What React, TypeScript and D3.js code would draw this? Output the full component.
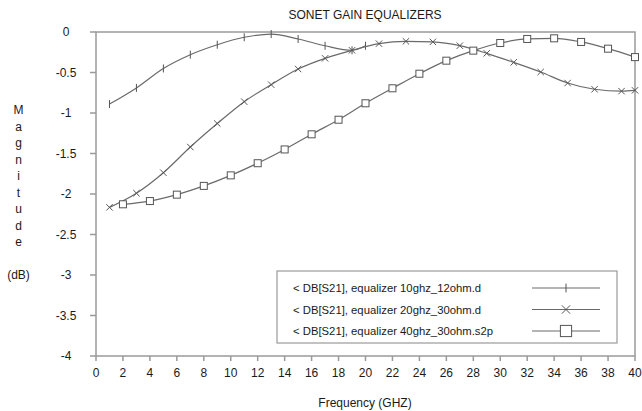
import * as d3 from "d3";

// frequency points (GHz) and magnitudes (dB)
const freq10 = [1, 3, 5, 7, 9, 11, 13, 15, 17, 19, 20];
const mag10 = [-0.89, -0.69, -0.45, -0.28, -0.157, -0.065, -0.025, -0.086, -0.17, -0.226, -0.17];

const freq20 = [1, 3, 5, 7, 9, 11, 13, 15, 17, 19, 21, 23, 25, 27, 29, 31, 33, 35, 37, 39, 40];
const mag20 = [-2.165, -1.99, -1.737, -1.42, -1.13, -0.86, -0.65, -0.457, -0.325, -0.226, -0.144, -0.115, -0.122, -0.169, -0.263, -0.375, -0.494, -0.63, -0.707, -0.73, -0.72];

const freq40 = [2, 4, 6, 8, 10, 12, 14, 16, 18, 20, 22, 24, 26, 28, 30, 32, 34, 36, 38, 40];
const mag40 = [-2.127, -2.087, -2.008, -1.9, -1.77, -1.62, -1.45, -1.263, -1.083, -0.88, -0.695, -0.515, -0.354, -0.23, -0.136, -0.086, -0.078, -0.123, -0.206, -0.31];

const seriesNames = [
  "< DB[S21], equalizer 10ghz_12ohm.d",
  "< DB[S21], equalizer 20ghz_30ohm.d",
  "< DB[S21], equalizer 40ghz_30ohm.s2p",
];

const xTicks = d3.range(0, 41, 2);
const yTicks = [0, -0.5, -1, -1.5, -2, -2.5, -3, -3.5, -4];
const yLabelLetters = ["M", "a", "g", "n", "i", "t", "u", "d", "e"];

const FONT = "Arial, 'Liberation Sans', sans-serif";
const LINE = "#6a6a6a";
const AXIS = "#9a9a9a";
const TEXT = "#1a1a1a";

type Pt = [number, number];

function Marker({ kind, x, y, s = 1 }: { kind: string; x: number; y: number; s?: number }) {
  if (kind === "plus") {
    return <line x1={x} x2={x} y1={y - 4 * s} y2={y + 4 * s} stroke="#555" strokeWidth={1} />;
  }
  if (kind === "cross") {
    const r = 3.2 * s;
    return (
      <g stroke="#555" strokeWidth={1}>
        <line x1={x - r} y1={y - r} x2={x + r} y2={y + r} />
        <line x1={x - r} y1={y + r} x2={x + r} y2={y - r} />
      </g>
    );
  }
  const h = 3.5 * s;
  return <rect x={x - h} y={y - h} width={2 * h} height={2 * h} fill="#fff" stroke="#555" strokeWidth={1} />;
}

export default function App() {
  const W = 642;
  const H = 411;
  const x = d3.scaleLinear().domain([0, 40]).range([96, 635]);
  const y = d3.scaleLinear().domain([0, -4]).range([32, 356]);

  const line = d3
    .line<Pt>()
    .x((d) => x(d[0]))
    .y((d) => y(d[1]))
    .curve(d3.curveMonotoneX);

  const series = [
    { kind: "plus", pts: freq10.map((f, i) => [f, mag10[i]] as Pt), ls: 1.1 },
    { kind: "cross", pts: freq20.map((f, i) => [f, mag20[i]] as Pt), ls: 1.3 },
    { kind: "square", pts: freq40.map((f, i) => [f, mag40[i]] as Pt), ls: 1.6 },
  ];

  const [x0, x1] = x.range();
  const [y0, y1] = y.range();

  // legend box
  const lg = { left: 277, top: 271, right: 617, bottom: 343 };
  const rowY = [288, 309.5, 331];

  return (
    <svg width={W} height={H} style={{ position: "absolute", left: 0, top: 0, background: "#fff" }}>
      <text x={365} y={19} textAnchor="middle" fontFamily={FONT} fontSize={12} fill={TEXT}>
        SONET GAIN EQUALIZERS
      </text>

      {/* frame */}
      <rect x={x0} y={y0} width={x1 - x0} height={y1 - y0} fill="none" stroke={AXIS} strokeWidth={1.5} />

      {/* y axis */}
      {yTicks.map((t) => (
        <g key={t}>
          <line x1={x0 - 6} x2={x0} y1={y(t)} y2={y(t)} stroke={AXIS} strokeWidth={1.5} />
          <text x={66} y={y(t) + 4} textAnchor="middle" fontFamily={FONT} fontSize={12} fill={TEXT}>
            {t === 0 ? "0" : String(t)}
          </text>
        </g>
      ))}

      {/* x axis */}
      {xTicks.map((t) => (
        <g key={t}>
          <line x1={x(t)} x2={x(t)} y1={y1} y2={y1 + 5} stroke={AXIS} strokeWidth={1.5} />
          <text x={x(t)} y={y1 + 21} textAnchor="middle" fontFamily={FONT} fontSize={12} fill={TEXT}>
            {t}
          </text>
        </g>
      ))}

      <text x={365} y={407} textAnchor="middle" fontFamily={FONT} fontSize={12} fill={TEXT}>
        Frequency (GHZ)
      </text>

      {yLabelLetters.map((c, i) => (
        <text key={i} x={18.5} y={114 + i * 16.5} textAnchor="middle" fontFamily={FONT} fontSize={12} fill={TEXT}>
          {c}
        </text>
      ))}
      <text x={18.5} y={279} textAnchor="middle" fontFamily={FONT} fontSize={12} fill={TEXT}>
        (dB)
      </text>

      {/* curves */}
      {series.map((s, i) => (
        <g key={i}>
          <path d={line(s.pts) ?? ""} fill="none" stroke={LINE} strokeWidth={1.2} />
          {s.pts.map((p, j) => (
            <Marker key={j} kind={s.kind} x={x(p[0])} y={y(p[1])} />
          ))}
        </g>
      ))}

      {/* legend */}
      <rect x={lg.left} y={lg.top} width={lg.right - lg.left} height={lg.bottom - lg.top} fill="#fff" stroke={AXIS} strokeWidth={1.2} />
      {seriesNames.map((n, i) => (
        <g key={n}>
          <text x={293} y={rowY[i] + 4} fontFamily={FONT} fontSize={11.3} fill={TEXT}>
            {n}
          </text>
          <line x1={532} x2={600} y1={rowY[i]} y2={rowY[i]} stroke={LINE} strokeWidth={1.2} />
          <Marker kind={series[i].kind} x={566} y={rowY[i]} s={series[i].ls} />
        </g>
      ))}
    </svg>
  );
}
